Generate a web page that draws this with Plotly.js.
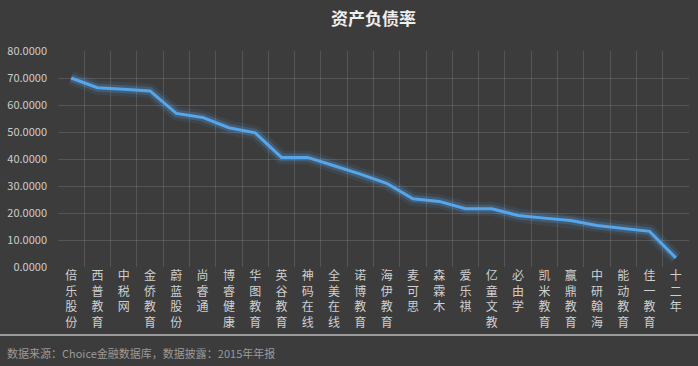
<!DOCTYPE html>
<html><head><meta charset="utf-8">
<script src="https://cdn.plot.ly/plotly-3.0.1.min.js"></script>
<style>html,body{margin:0;padding:0;background:#3c3c3c;}#chart{width:698px;height:366px;}</style>
</head><body><div id="chart"></div>
<script>
var companies = ["倍乐股份","西普教育","中税网","金侨教育","蔚蓝股份","尚睿通","博睿健康","华图教育","英谷教育","神码在线","全美在线","诺博教育","海伊教育","麦可思","森霖木","爱乐祺","亿童文教","必由学","凯米教育","赢鼎教育","中研翰海","能动教育","佳一教育","十二年"];
var debtRatio = [70.0, 66.4, 65.8, 65.2, 56.9, 55.4, 51.6, 49.7, 40.6, 40.6, 37.5, 34.4, 31.0, 25.3, 24.3, 21.6, 21.6, 19.1, 18.1, 17.2, 15.4, 14.2, 13.2, 3.4];
var yTicks = [0, 10, 20, 30, 40, 50, 60, 70, 80];
var tickLabels = companies.map(function(c){ return c.split("").join("<br>"); });
var FONT = "Noto Sans CJK SC, sans-serif";

var traces = [
  {x: companies, y: debtRatio, type: "scatter", mode: "lines", line: {color: "rgba(90,170,240,0.10)", width: 14}, hoverinfo: "skip", showlegend: false},
  {x: companies, y: debtRatio, type: "scatter", mode: "lines", line: {color: "rgba(90,170,240,0.22)", width: 8}, hoverinfo: "skip", showlegend: false},
  {x: companies, y: debtRatio, type: "scatter", mode: "lines", line: {color: "#55a6ea", width: 3}, name: "资产负债率", showlegend: false}
];

var layout = {
  width: 698, height: 366,
  paper_bgcolor: "#3c3c3c", plot_bgcolor: "#3c3c3c",
  margin: {l: 58, r: 9, t: 51, b: 99},
  font: {family: FONT, color: "#cccccc", size: 11},
  title: {text: "<b>资产负债率</b>", x: 0.5, xref: "paper", y: 0.965, yref: "container", font: {family: FONT, size: 17, color: "#eeeeee"}},
  xaxis: {type: "category", range: [-0.5, companies.length - 0.5], tickmode: "array", tickvals: companies, ticktext: tickLabels, tickson: "boundaries",
          showgrid: true, gridcolor: "rgba(255,255,255,0.13)", gridwidth: 1, zeroline: false, showline: false,
          ticks: "", tickangle: 0, tickfont: {family: FONT, size: 12, color: "#cfcfcf"}, fixedrange: true},
  yaxis: {range: [0, 80], tickmode: "array", tickvals: yTicks, tickformat: ".4f",
          showgrid: true, gridcolor: "rgba(255,255,255,0.13)", gridwidth: 1, zeroline: false, showline: false,
          ticks: "", ticklabelstandoff: 10, tickfont: {family: FONT, size: 11, color: "#cccccc"}, fixedrange: true},
  shapes: [
    {type: "line", xref: "paper", yref: "paper", x0: -58/631, x1: 1 + 9/631, y0: -68/216, y1: -68/216, line: {color: "#bbbbbb", width: 1.5}}
  ],
  annotations: [
    {text: "数据来源：Choice金融数据库，数据披露：2015年年报", xref: "paper", yref: "paper", x: -53/631, y: -86/216, xanchor: "left", yanchor: "middle", showarrow: false, font: {family: FONT, size: 11, color: "#9a9a9a"}}
  ]
};

Plotly.newPlot("chart", traces, layout, {displayModeBar: false, staticPlot: true});
</script></body></html>
